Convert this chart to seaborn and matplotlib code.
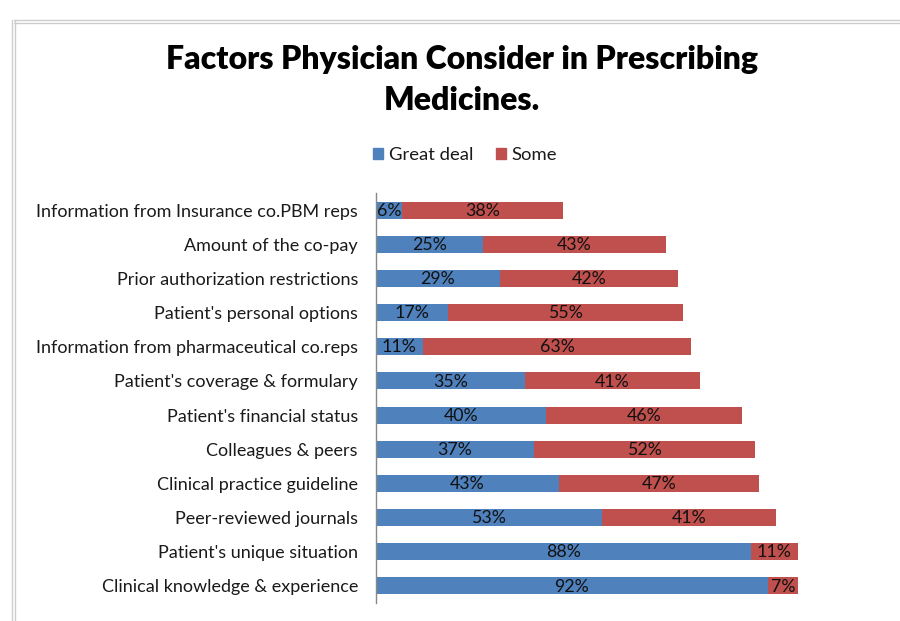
import pandas as pd
import matplotlib.pyplot as plt
import seaborn as sns
from matplotlib.lines import Line2D

factors = [
    "Information from Insurance co.PBM reps",
    "Amount of the co-pay",
    "Prior authorization restrictions",
    "Patient's personal options",
    "Information from pharmaceutical co.reps",
    "Patient's coverage & formulary",
    "Patient's financial status",
    "Colleagues & peers",
    "Clinical practice guideline",
    "Peer-reviewed journals",
    "Patient's unique situation",
    "Clinical knowledge & experience",
]
great_deal = [6, 25, 29, 17, 11, 35, 40, 37, 43, 53, 88, 92]
some = [38, 43, 42, 55, 63, 41, 46, 52, 47, 41, 11, 7]

BLUE = "#4F81BD"
RED = "#C0504D"

df = pd.DataFrame({"factor": factors, "great": great_deal, "some": some})
df["total"] = df["great"] + df["some"]

sns.set_style("white")
plt.rcParams["font.family"] = ["Lato", "DejaVu Sans"]

fig = plt.figure(figsize=(9, 6.21), dpi=100)
ax = fig.add_axes([376 / 900, 1 - 603 / 621, (802 - 376) / 900, (603 - 193) / 621])

sns.barplot(data=df, x="total", y="factor", color=RED, width=0.5,
            linewidth=0, saturation=1, ax=ax)
sns.barplot(data=df, x="great", y="factor", color=BLUE, width=0.5,
            linewidth=0, saturation=1, ax=ax)

for i, row in df.iterrows():
    ax.text(row["great"] / 2, i + 0.02, f"{row['great']}%", ha="center", va="center",
            fontsize=12.8, color="#111111")
    ax.text(row["great"] + row["some"] / 2, i + 0.02, f"{row['some']}%", ha="center",
            va="center", fontsize=12.8, color="#111111")

ax.set_xlim(0, 100)
ax.set_ylim(11.5, -0.5)
ax.set_xlabel("")
ax.set_ylabel("")
ax.set_xticks([])
ax.tick_params(axis="y", length=0, labelsize=13, pad=13, labelcolor="#1a1a1a")
for s in ["top", "right", "bottom"]:
    ax.spines[s].set_visible(False)
ax.spines["left"].set_color("#888888")
ax.spines["left"].set_linewidth(1)

fig.text(462 / 900, 1 - 80 / 621, "Factors Physician Consider in Prescribing\nMedicines.",
         ha="center", va="center", fontsize=23, fontweight="heavy", color="black",
         linespacing=1.5)

handles = [plt.Rectangle((0, 0), 1, 1, color=BLUE), plt.Rectangle((0, 0), 1, 1, color=RED)]
fig.legend(handles, ["Great deal", "Some"], loc="center", bbox_to_anchor=(465 / 900, 1 - 155 / 621),
           ncol=2, frameon=False, fontsize=13.3, handlelength=0.55, handleheight=0.55,
           handletextpad=0.3, columnspacing=1.2, labelcolor="#1a1a1a")

# chart frame edges like the screenshot
for y in [20, 23]:
    fig.add_artist(Line2D([14 / 900, 1], [1 - y / 621, 1 - y / 621], color="#cccccc", lw=1))
for x in [12, 15]:
    fig.add_artist(Line2D([x / 900, x / 900], [0, 1 - 20 / 621], color="#cccccc", lw=1))

fig.savefig("out.png", dpi=100)
